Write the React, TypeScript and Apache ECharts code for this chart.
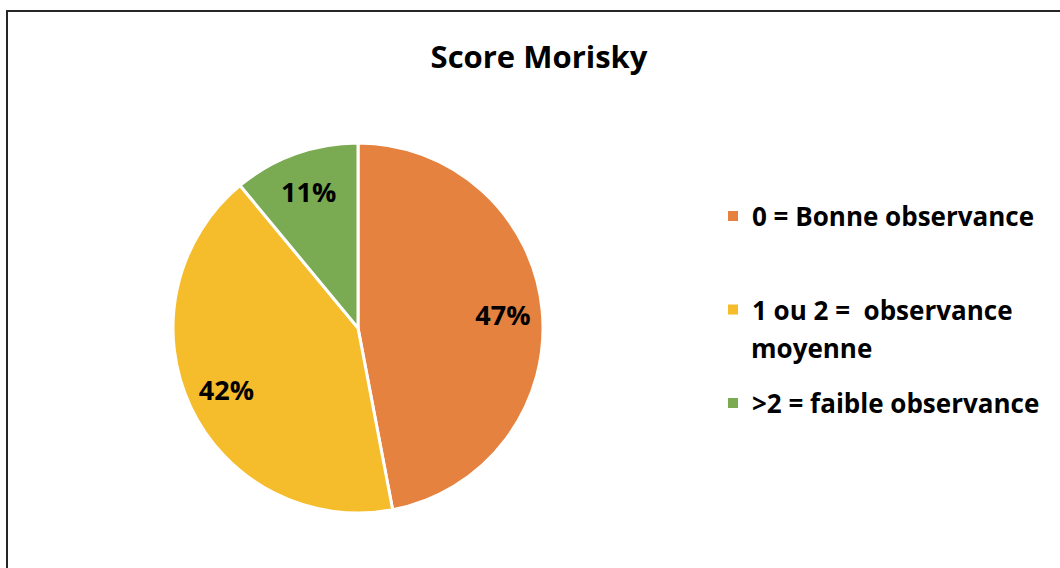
import React, { useEffect, useRef } from "react";
import * as echarts from "echarts";

const titleText = "Score Morisky";
const categories = [
  "0 = Bonne observance",
  "1 ou 2 =  observance moyenne",
  ">2 = faible observance",
];
const legendFirstLines = ["0 = Bonne observance", "1 ou 2 =  observance", ">2 = faible observance"];
const legendSecondLine = "moyenne";
const values = [47, 42, 11];
const colors = ["#E6823F", "#F5BC2B", "#7AAA52"];

const FONT = "Open Sans";

export default function App() {
  const ref = useRef<HTMLDivElement>(null);
  useEffect(() => {
    document.body.style.margin = "0";
    const chart = echarts.init(ref.current!, undefined, { renderer: "svg" });
    const data = categories.map((name, i) => ({
      name,
      value: values[i],
      itemStyle: { color: colors[i] },
    }));
    chart.setOption({
      animation: false,
      backgroundColor: "#ffffff",
      title: {
        text: titleText,
        left: 539,
        textAlign: "center",
        top: 40,
        padding: 0,
        textStyle: { fontFamily: FONT, fontWeight: "bold", fontSize: 31, color: "#000" },
      },
      legend: {
        orient: "vertical",
        left: 726,
        top: 201,
        padding: 0,
        itemWidth: 12,
        itemHeight: 12,
        itemGap: 63.5,
        icon: "rect",
        data: categories,
        formatter: (name: string) => legendFirstLines[categories.indexOf(name)],
        textStyle: {
          fontFamily: FONT,
          fontWeight: "bold",
          fontSize: 26,
          lineHeight: 30,
          color: "#000",
          padding: [0, 0, 0, 8],
        },
      },
      graphic: [
        {
          type: "rect",
          shape: { x: 7, y: 11, width: 1100, height: 620 },
          style: { fill: "none", stroke: "#262626", lineWidth: 2 },
          silent: true,
        },
        {
          type: "text",
          x: 751,
          y: 348,
          style: {
            text: legendSecondLine,
            fontFamily: FONT,
            fontWeight: "bold",
            fontSize: 26,
            fill: "#000",
            verticalAlign: "middle",
          },
        },
      ],
      series: [
        {
          type: "pie",
          center: [358, 328],
          radius: [0, 185],
          startAngle: 90,
          clockwise: true,
          label: { show: false },
          labelLine: { show: false },
          itemStyle: { borderColor: "#ffffff", borderWidth: 3 },
          data,
        },
        {
          type: "pie",
          center: [358, 328],
          radius: [100, 185],
          startAngle: 90,
          clockwise: true,
          silent: true,
          legendHoverLink: false,
          itemStyle: { color: "transparent", borderWidth: 0 },
          label: {
            show: true,
            position: "inside",
            formatter: "{c}%",
            fontFamily: FONT,
            fontWeight: "bold",
            fontSize: 27,
            color: "#000",
          },
          labelLine: { show: false },
          data: categories.map((name, i) => ({
            name,
            value: values[i],
            itemStyle: { color: "transparent" },
          })),
        },
      ],
    });
    return () => chart.dispose();
  }, []);
  return <div ref={ref} style={{ width: 1060, height: 568 }} />;
}
